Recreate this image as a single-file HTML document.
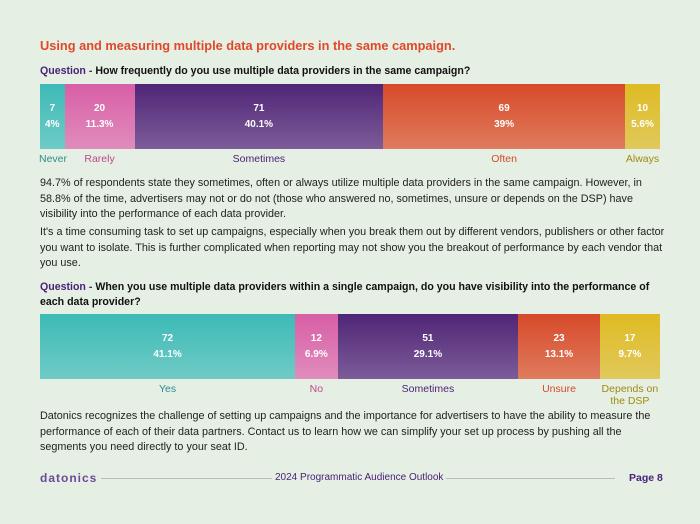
<!DOCTYPE html>
<html><head><meta charset="utf-8">
<style>
body{margin:0;width:700px;height:524px;background:#e6efe3;font-family:"Liberation Sans",sans-serif;position:relative;overflow:hidden;color:#222}
.abs{position:absolute}
h1{position:absolute;left:40px;top:38px;margin:0;font-size:12.8px;color:#e0482a;font-weight:bold}
.q{position:absolute;left:40px;font-size:10.6px;font-weight:bold;color:#111;line-height:15px;width:625px}
.q b{color:#4a2277}
.p{position:absolute;left:40px;width:625px;font-size:10.8px;line-height:15.5px;color:#222}
.seg{position:absolute;color:#fff;text-align:center;font-size:10px;font-weight:bold;line-height:16px;box-sizing:border-box;padding-top:17px}
.lab{position:absolute;font-size:10.5px;text-align:center;line-height:12px;transform:translateX(-50%)}
</style></head><body>
<h1>Using and measuring multiple data providers in the same campaign.</h1>
<div class="q" style="top:64px"><b>Question -</b> How frequently do you use multiple data providers in the same campaign?</div>
<div id="chart1"></div>
<div class="p" style="top:176px">94.7% of respondents state they sometimes, often or always utilize multiple data providers in the same campaign. However, in 58.8% of the time, advertisers may not or do not (those who answered no, sometimes, unsure or depends on the DSP) have visibility into the performance of each data provider.</div>
<div class="p" style="top:225px">It's a time consuming task to set up campaigns, especially when you break them out by different vendors, publishers or other factor you want to isolate. This is further complicated when reporting may not show you the breakout of performance by each vendor that you use.</div>
<div class="q" style="top:280px"><b>Question -</b> When you use multiple data providers within a single campaign, do you have visibility into the performance of each data provider?</div>
<div id="chart2"></div>
<div class="p" style="top:409px">Datonics recognizes the challenge of setting up campaigns and the importance for advertisers to have the ability to measure the performance of each of their data partners. Contact us to learn how we can simplify your set up process by pushing all the segments you need directly to your seat ID.</div>
<div class="abs" style="left:100px;top:478px;width:515px;height:1px;background:#bbb"></div>
<div class="abs" style="left:40px;top:471px;font-size:12px;font-weight:bold;color:#6a4a9a;letter-spacing:1px;background:#e6efe3;padding-right:4px">datonics</div>
<div class="abs" style="left:272px;top:472px;font-size:10px;color:#4a2277;background:#e6efe3;padding:0 3px">2024 Programmatic Audience Outlook</div>
<div class="abs" style="left:625px;top:472px;font-size:10.5px;font-weight:bold;color:#4a2277;background:#e6efe3;padding-left:4px">Page 8</div>
<script>
const cats1=["Never","Rarely","Sometimes","Often","Always"];
const vals1=[7,20,71,69,10];
const pcts1=["4%","11.3%","40.1%","39%","5.6%"];
const cats2=["Yes","No","Sometimes","Unsure","Depends on<br>the DSP"];
const vals2=[72,12,51,23,17];
const pcts2=["41.1%","6.9%","29.1%","13.1%","9.7%"];
const fills=["linear-gradient(#3dbab6,#6fcbc6)","linear-gradient(#d85fa5,#e08cbd)","linear-gradient(#4f2576,#7d5c99)","linear-gradient(#d74a29,#df7b5e)","linear-gradient(#dfbb22,#e0c95c)"];
const labCols=["#2a8f8a","#c0488e","#4a2277","#d5482a","#a08a10"];
function draw(id,cats,vals,pcts,top){
  const root=document.getElementById(id);
  const x0=40,w=620,h=65;
  const total=vals.reduce((a,b)=>a+b,0);
  let x=x0;
  vals.forEach((v,i)=>{
    const sw=v/total*w;
    const s=document.createElement('div');
    
    
    s.className='seg';
    s.style.cssText=`left:${x}px;top:${top}px;width:${sw}px;height:${h}px;background:${fills[i]}`;
    s.innerHTML=v+'<br>'+pcts[i];
    root.appendChild(s);
    const l=document.createElement('div');
    
    
    l.className='lab';
    let cx=x+sw/2;
    if(i==0&&sw<30)cx=Math.max(cx,53);
    if(i==vals.length-1&&sw<40)cx=Math.min(cx,644);
    l.style.cssText=`left:${cx}px;top:${top+h+4}px;color:${labCols[i]};white-space:nowrap`;
    l.innerHTML=cats[i];
    root.appendChild(l);
    x+=sw;
  });
}
draw('chart1',cats1,vals1,pcts1,84);
draw('chart2',cats2,vals2,pcts2,314);
</script>
</body></html>
